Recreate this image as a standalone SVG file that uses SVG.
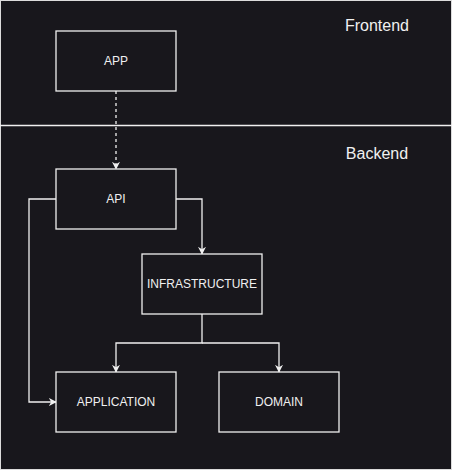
<svg xmlns="http://www.w3.org/2000/svg" width="452" height="470" viewBox="0 0 452 470">
<defs>
<style>
.node rect{fill:#18171c;stroke:#f0f0f0;stroke-width:1.3}
.node text{fill:#f0f0f0;font-family:"Liberation Sans",Arial,sans-serif;font-size:12px;text-anchor:middle;dominant-baseline:central}
.lbl{fill:#f0f0f0;font-family:"Liberation Sans",Arial,sans-serif;font-size:16px;text-anchor:middle;dominant-baseline:central}
.edge{fill:none;stroke:#f0f0f0;stroke-width:1.3;marker-end:url(#arr)}
</style>
<marker id="arr" viewBox="0 0 10 10" refX="9" refY="5" markerWidth="8" markerHeight="8" markerUnits="userSpaceOnUse" orient="auto">
<path d="M0,0 L10,5 L0,10 L3,5 Z" fill="#f0f0f0"/>
</marker>
</defs>
<rect x="0" y="0" width="452" height="470" fill="#18171c"/>
<rect x="0.5" y="0.5" width="451" height="469" fill="none" stroke="#dcdcdc" stroke-width="1"/>
<g id="sections">
<line x1="0" y1="125.5" x2="452" y2="125.5" stroke="#f0f0f0" stroke-width="1.3"/>
<text class="lbl" x="377" y="25">Frontend</text>
<text class="lbl" x="377" y="153">Backend</text>
</g>
<g id="connectors">
<path class="edge" d="M116,91 L116,169" stroke-dasharray="3,3"/>
<path class="edge" d="M176,199 L202,199 L202,254"/>
<path class="edge" d="M56,199 L29,199 L29,402 L56,402"/>
<path class="edge" d="M202,314 L202,343 L116,343 L116,372"/>
<path class="edge" d="M202,343 L279,343 L279,372"/>
</g>
<g id="app" class="node"><rect x="56" y="31" width="120" height="60"/><text x="116" y="61">APP</text></g>
<g id="api" class="node"><rect x="56" y="169" width="120" height="60"/><text x="116" y="199">API</text></g>
<g id="infrastructure" class="node"><rect x="142" y="254" width="120" height="60"/><text x="202" y="284">INFRASTRUCTURE</text></g>
<g id="application" class="node"><rect x="56" y="372" width="120" height="60"/><text x="116" y="402">APPLICATION</text></g>
<g id="domain" class="node"><rect x="219" y="372" width="120" height="60"/><text x="279" y="402">DOMAIN</text></g>
</svg>
